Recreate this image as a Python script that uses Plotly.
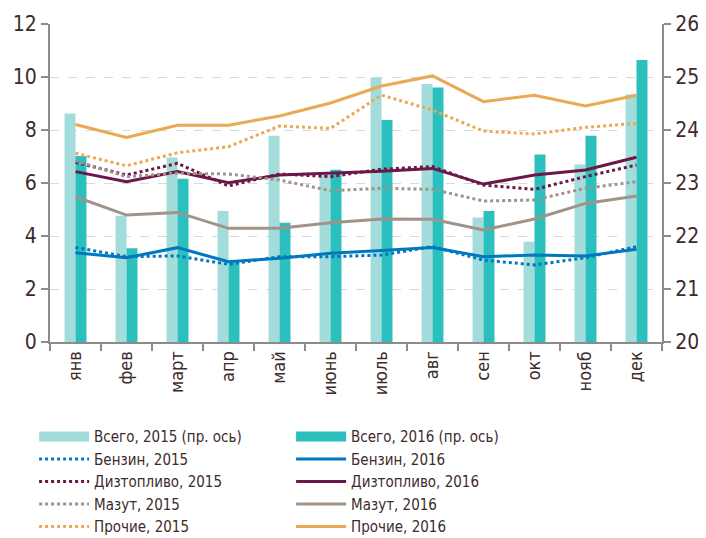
import plotly.graph_objects as go

months = ["янв", "фев", "март", "апр", "май", "июнь", "июль", "авг", "сен", "окт", "нояб", "дек"]

total_2015 = [24.31, 22.38, 23.48, 22.47, 23.89, 23.15, 24.99, 24.87, 22.35, 21.89, 23.35, 24.67]
total_2016 = [23.51, 21.77, 23.08, 21.50, 22.25, 23.25, 24.19, 24.80, 22.47, 23.54, 23.89, 25.32]

benzin_2015 = [3.57, 3.22, 3.25, 2.93, 3.22, 3.22, 3.28, 3.60, 3.09, 2.91, 3.18, 3.60]
benzin_2016 = [3.37, 3.18, 3.56, 3.03, 3.16, 3.35, 3.45, 3.57, 3.22, 3.28, 3.25, 3.50]
dizel_2015 = [6.78, 6.30, 6.74, 5.89, 6.34, 6.24, 6.52, 6.62, 5.92, 5.76, 6.24, 6.68]
dizel_2016 = [6.43, 6.05, 6.43, 6.01, 6.30, 6.37, 6.44, 6.55, 5.96, 6.30, 6.49, 6.97]
mazut_2015 = [6.84, 6.24, 6.37, 6.34, 6.11, 5.71, 5.80, 5.76, 5.32, 5.36, 5.80, 6.05]
mazut_2016 = [5.48, 4.79, 4.89, 4.29, 4.29, 4.50, 4.64, 4.63, 4.23, 4.64, 5.23, 5.51]
prochie_2015 = [7.12, 6.65, 7.14, 7.37, 8.15, 8.06, 9.32, 8.75, 7.96, 7.85, 8.10, 8.25]
prochie_2016 = [8.21, 7.72, 8.18, 8.18, 8.53, 9.02, 9.66, 10.04, 9.07, 9.31, 8.91, 9.31]

C_BAR15 = "#a2dcdb"
C_BAR16 = "#2bbfbd"
C_BENZ = "#0078be"
C_DIZ = "#6b1747"
C_MAZ = "#a09389"
C_PRO = "#eaa955"
TXT = "#3d2b2b"
AX = "#8c8c8c"
FONT = "DejaVu Sans Condensed, Liberation Sans Narrow, sans-serif"

fig = go.Figure()

fig.add_trace(go.Bar(x=months, y=total_2015, name="Всего, 2015 (пр. ось)", showlegend=False,
                     marker=dict(color=C_BAR15, line_width=0), yaxis="y"))
fig.add_trace(go.Bar(x=months, y=total_2016, name="Всего, 2016 (пр. ось)", showlegend=False,
                     marker=dict(color=C_BAR16, line_width=0), yaxis="y"))

# legend proxies for the bars (wide rectangle swatches)
fig.add_trace(go.Scatter(x=[None], y=[None], name="Всего, 2015 (пр. ось)", mode="lines",
                         yaxis="y2", line=dict(color=C_BAR15, width=12)))
fig.add_trace(go.Scatter(x=[None], y=[None], name="Всего, 2016 (пр. ось)", mode="lines",
                         yaxis="y2", line=dict(color=C_BAR16, width=12)))

def line(vals, name, color, dotted):
    fig.add_trace(go.Scatter(x=months, y=vals, name=name, mode="lines", yaxis="y2",
                             line=dict(color=color, width=3, dash="dot" if dotted else "solid")))

line(benzin_2015, "Бензин, 2015", C_BENZ, True)
line(benzin_2016, "Бензин, 2016", C_BENZ, False)
line(dizel_2015, "Дизтопливо, 2015", C_DIZ, True)
line(dizel_2016, "Дизтопливо, 2016", C_DIZ, False)
line(mazut_2015, "Мазут, 2015", C_MAZ, True)
line(mazut_2016, "Мазут, 2016", C_MAZ, False)
line(prochie_2015, "Прочие, 2015", C_PRO, True)
line(prochie_2016, "Прочие, 2016", C_PRO, False)

fig.update_layout(
    width=698, height=530,
    margin=dict(l=42, r=44, t=16, b=196, autoexpand=False),
    paper_bgcolor="white", plot_bgcolor="white",
    font=dict(family=FONT, size=18, color=TXT),
    barmode="group", bargap=0.57, bargroupgap=0,
    showlegend=True,
    legend=dict(orientation="h", x=-0.026, y=-0.246, xanchor="left", yanchor="top",
                entrywidth=192, entrywidthmode="pixels", itemwidth=50,
                font=dict(size=15, color=TXT), traceorder="normal",
                bgcolor="rgba(0,0,0,0)", tracegroupgap=0),
    xaxis=dict(type="category", showline=True, linecolor=AX, linewidth=2, automargin=False,
               ticks="outside", tickson="boundaries", ticklen=7, tickcolor=AX, tickwidth=2,
               tickangle=-90, tickfont=dict(size=18, color=TXT), showgrid=False),
    yaxis=dict(side="right", range=[20, 26], dtick=1, showline=True, linecolor=AX, linewidth=2,
               ticks="outside", ticklen=7, tickcolor=AX, tickwidth=2, automargin=False,
               showgrid=True, gridcolor="#d9d9d9", griddash="dash", gridwidth=1,
               tickfont=dict(size=21, color=TXT), zeroline=False),
    yaxis2=dict(side="left", overlaying="y", range=[0, 12], dtick=2, showline=True, automargin=False,
                linecolor=AX, linewidth=2, ticks="outside", ticklen=7, tickcolor=AX, tickwidth=2,
                showgrid=False, zeroline=False, tickfont=dict(size=21, color=TXT)),
)

fig.write_html("out.html")
